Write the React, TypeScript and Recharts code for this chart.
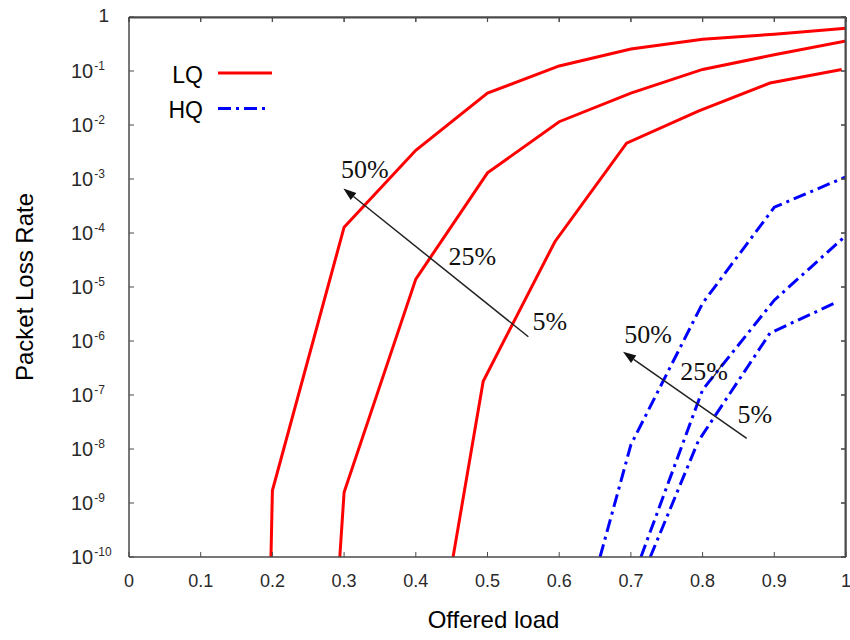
import React from 'react';
import { LineChart, Line, XAxis, YAxis, Legend, ReferenceLine, ReferenceDot } from 'recharts';

// ---------- data ----------
const loadTicks = [0, 0.1, 0.2, 0.3, 0.4, 0.5, 0.6, 0.7, 0.8, 0.9, 1];
const lossTicks = [1, 1e-1, 1e-2, 1e-3, 1e-4, 1e-5, 1e-6, 1e-7, 1e-8, 1e-9, 1e-10];
const lossTickExponents = ['', '-1', '-2', '-3', '-4', '-5', '-6', '-7', '-8', '-9', '-10'];
const legendNames = ['LQ', 'HQ'];
const loadMin = 0;
const loadMax = 1;
const lossMin = 1e-10;
const lossMax = 1;

const loadLQ50 = [0.198, 0.2, 0.3, 0.4, 0.5, 0.6, 0.7, 0.8, 0.9, 1.0];
const lossLQ50 = [1e-10, 1.7e-9, 1.28e-4, 3.4e-3, 3.9e-2, 0.124, 0.255, 0.386, 0.48, 0.617];

const loadLQ25 = [0.294, 0.3, 0.4, 0.5, 0.6, 0.7, 0.8, 0.9, 1.0];
const lossLQ25 = [1e-10, 1.58e-9, 1.4e-5, 1.3e-3, 1.15e-2, 3.9e-2, 0.107, 0.2, 0.36];

const loadLQ5 = [0.452, 0.494, 0.594, 0.694, 0.794, 0.894, 0.994];
const lossLQ5 = [1e-10, 1.8e-7, 6.9e-5, 4.6e-3, 1.8e-2, 6e-2, 0.107];

const loadHQ50 = [0.657, 0.7, 0.8, 0.9, 1.0];
const lossHQ50 = [1e-10, 1.2e-8, 5e-6, 3e-4, 1.1e-3];

const loadHQ25 = [0.714, 0.8, 0.9, 1.0];
const lossHQ25 = [1e-10, 1.25e-7, 5.7e-6, 9e-5];

const loadHQ5 = [0.727, 0.794, 0.894, 0.988];
const lossHQ5 = [1e-10, 1.4e-8, 1.4e-6, 5.3e-6];

// arrows: [tail, tip] in (load, loss)
const arrowLQ = [{ x: 0.557, y: 1.2e-6 }, { x: 0.299, y: 6.7e-4 }];
const arrowHQ = [{ x: 0.8615, y: 1.58e-8 }, { x: 0.689, y: 6.3e-7 }];

const pctLabels = ['50%', '25%', '5%', '50%', '25%', '5%'];
const pctLoad = [0.329, 0.479, 0.587, 0.724, 0.802, 0.873];
const pctLoss = [1.04e-3, 2.55e-5, 1.6e-6, 9.06e-7, 1.9e-7, 3.03e-8];

const zip = (xs: number[], ys: number[]) => xs.map((x, i) => ({ x, y: ys[i] }));

// ---------- layout / styles ----------
const CHART_W = 850;
const CHART_H = 640;
const MARGIN = { top: 17, right: 4, bottom: 0, left: 0 };
const Y_AXIS_W = 129;
const X_AXIS_H = 83;
const PLOT_X = MARGIN.left + Y_AXIS_W;
const PLOT_Y = MARGIN.top;
const PLOT_W = CHART_W - MARGIN.left - MARGIN.right - Y_AXIS_W;
const PLOT_H = CHART_H - MARGIN.top - MARGIN.bottom - X_AXIS_H;

const AXIS = '#4a4a4a';
const TXT = '#2a2a2a';
const SANS = '"Liberation Sans", Arial, sans-serif';
const SERIF = '"Liberation Serif", "Times New Roman", serif';
const RED = '#ff0000';
const BLUE = '#0000ff';
const DASH = '13 5 3 5';
const TICK_LEN = 5;

const fmtLoad = (v: number) => (v === 0 ? '0' : v === 1 ? '1' : String(Math.round(v * 10) / 10));

const XTickBottom = (props: any) => {
  const { x, y, payload } = props;
  return (
    <g>
      <line x1={x} y1={y} x2={x} y2={y - TICK_LEN} stroke={AXIS} strokeWidth={1} />
      <text x={x} y={y + 30} textAnchor="middle" fontSize={18} fill={TXT} fontFamily={SANS}>
        {fmtLoad(payload.value)}
      </text>
    </g>
  );
};

const YTickLeft = (props: any) => {
  const { x, y, index } = props;
  const exp = lossTickExponents[index];
  return (
    <g>
      <line x1={x} y1={y} x2={x + TICK_LEN} y2={y} stroke={AXIS} strokeWidth={1} />
      {exp === '' ? (
        <text x={x - 20} y={y + 5} textAnchor="end" fontSize={19} fill={TXT} fontFamily={SANS}>1</text>
      ) : (
        <text x={x - 58} y={y + 7} textAnchor="start" fontSize={20} fill={TXT} fontFamily={SANS}>
          10
          <tspan dx={1} dy={-8.5} fontSize={12}>{exp}</tspan>
        </text>
      )}
    </g>
  );
};

const TopTick = (props: any) => {
  const { x1, y1, y2 } = props;
  if (x1 == null || y1 == null) return null;
  const top = Math.min(y1, y2);
  return <line x1={x1} y1={top} x2={x1} y2={top + TICK_LEN} stroke={AXIS} strokeWidth={1.2} />;
};

const RightTick = (props: any) => {
  const { x1, y1, x2 } = props;
  if (x1 == null || y1 == null) return null;
  const right = Math.max(x1, x2);
  return <line x1={right} y1={y1} x2={right - TICK_LEN} y2={y1} stroke={AXIS} strokeWidth={1.2} />;
};

const FrameEdge = (props: any) => {
  const { x1, y1, x2, y2 } = props;
  if (x1 == null || y1 == null) return null;
  const horizontal = Math.abs(y1 - y2) < 0.5;
  const dx = horizontal ? 0 : -0.75;
  const dy = horizontal ? 0.75 : 0;
  return <line x1={x1 + dx} y1={y1 + dy} x2={x2 + dx} y2={y2 + dy} stroke={AXIS} strokeWidth={1.5} />;
};

const ArrowShape = (props: any) => {
  const { x1, y1, x2, y2 } = props;
  if (x1 == null || x2 == null) return null;
  const ang = Math.atan2(y2 - y1, x2 - x1);
  const L = 13;
  const W = 4.5;
  const bx = x2 - L * Math.cos(ang);
  const by = y2 - L * Math.sin(ang);
  const p1x = bx + W * Math.sin(ang);
  const p1y = by - W * Math.cos(ang);
  const p2x = bx - W * Math.sin(ang);
  const p2y = by + W * Math.cos(ang);
  return (
    <g>
      <line x1={x1} y1={y1} x2={bx} y2={by} stroke="#222" strokeWidth={1.5} />
      <polygon points={`${x2},${y2} ${p1x},${p1y} ${p2x},${p2y}`} fill="#111" />
    </g>
  );
};

const makeLabelShape = (text: string) => (p: any) => (
  <text x={p.cx} y={p.cy} textAnchor="middle" fontSize={26} fill="#111" fontFamily={SERIF}>
    {text}
  </text>
);
const labelShapes = pctLabels.map((t) => makeLabelShape(t));

const LegendContent = (props: any) => {
  const { payload } = props;
  if (!payload) return null;
  const items = legendNames
    .map((n) => payload.find((e: any) => e.value === n))
    .filter(Boolean);
  return (
    <svg width={130} height={80} style={{ overflow: 'visible', display: 'block' }}>
      {items.map((entry: any, i: number) => {
        const cy = 20 + i * 35.6;
        const dash = entry.payload && entry.payload.strokeDasharray;
        return (
          <g key={i}>
            <text x={45} y={cy + 9.5} textAnchor="end" fontSize={23} fill="#000" fontFamily={SANS}>
              {entry.value}
            </text>
            <line x1={60} y1={cy} x2={i === 0 ? 114 : 108} y2={cy} stroke={entry.color} strokeWidth={3} strokeDasharray={dash} />
          </g>
        );
      })}
    </svg>
  );
};

const XTitle = (p: any) => {
  const vb = p.viewBox || {};
  return (
    <text x={vb.x + vb.width / 2 + 6} y={vb.y + 71} textAnchor="middle" fontSize={24} fill="#000" fontFamily={SANS}>
      Offered load
    </text>
  );
};

const YTitle = (p: any) => {
  const vb = p.viewBox || {};
  const cx = 33;
  const cy = vb.y + vb.height / 2;
  return (
    <text x={cx} y={cy} transform={`rotate(-90 ${cx} ${cy})`} textAnchor="middle" fontSize={24} fill="#000" fontFamily={SANS}>
      Packet Loss Rate
    </text>
  );
};

// frame overlay (top and right edges of the plot box with inward ticks), laid over the chart
const FrameOverlay = () => {
  const right = PLOT_X + PLOT_W;
  const logMin = Math.log10(lossMin);
  const logMax = Math.log10(lossMax);
  return (
    <svg
      width={CHART_W}
      height={CHART_H}
      style={{ position: 'absolute', left: 0, top: 0, pointerEvents: 'none', zIndex: 5 }}
    >
      <line x1={PLOT_X} y1={PLOT_Y} x2={right} y2={PLOT_Y} stroke={AXIS} strokeWidth={1.5} />
      <line x1={right} y1={PLOT_Y} x2={right} y2={PLOT_Y + PLOT_H} stroke={AXIS} strokeWidth={1.5} />
      {loadTicks.map((v) => {
        const x = PLOT_X + ((v - loadMin) / (loadMax - loadMin)) * PLOT_W;
        return <line key={`ot${v}`} x1={x} y1={PLOT_Y} x2={x} y2={PLOT_Y + TICK_LEN} stroke={AXIS} strokeWidth={1} />;
      })}
      {lossTicks.map((v) => {
        const y = PLOT_Y + ((logMax - Math.log10(v)) / (logMax - logMin)) * PLOT_H;
        return <line key={`or${v}`} x1={right} y1={y} x2={right - TICK_LEN} y2={y} stroke={AXIS} strokeWidth={1} />;
      })}
    </svg>
  );
};

export default function App() {
  return (
    <div style={{ position: 'absolute', left: 0, top: 0, width: CHART_W, height: CHART_H, background: '#fff' }}>
      <LineChart width={CHART_W} height={CHART_H} margin={MARGIN}>
        <XAxis
          type="number"
          dataKey="x"
          domain={[loadMin, loadMax]}
          ticks={loadTicks}
          allowDataOverflow
          height={X_AXIS_H}
          tickLine={false}
          tickSize={0}
          tickMargin={0}
          interval={0}
          axisLine={{ stroke: AXIS, strokeWidth: 1.5 }}
          tick={<XTickBottom />}
          label={{ value: 'Offered load', content: XTitle }}
        />
        <YAxis
          type="number"
          scale="log"
          domain={[lossMin, lossMax]}
          ticks={lossTicks}
          allowDataOverflow
          width={Y_AXIS_W}
          tickLine={false}
          tickSize={0}
          tickMargin={0}
          interval={0}
          axisLine={{ stroke: AXIS, strokeWidth: 1.5 }}
          tick={<YTickLeft />}
          label={{ value: 'Packet Loss Rate', content: YTitle }}
        />
        <Legend
          layout="horizontal"
          verticalAlign="middle"
          align="center"
          wrapperStyle={{ position: 'absolute', left: 158, top: 53, width: 130, height: 80 }}
          content={<LegendContent />}
        />
        <Line data={zip(loadLQ50, lossLQ50)} dataKey="y" name="LQ" type="linear" stroke={RED} strokeWidth={3} dot={false} isAnimationActive={false} />
        <Line data={zip(loadHQ50, lossHQ50)} dataKey="y" name="HQ" type="linear" stroke={BLUE} strokeWidth={3} strokeDasharray={DASH} dot={false} isAnimationActive={false} />
        <Line data={zip(loadLQ25, lossLQ25)} dataKey="y" name="LQ 25%" legendType="none" type="linear" stroke={RED} strokeWidth={3} dot={false} isAnimationActive={false} />
        <Line data={zip(loadLQ5, lossLQ5)} dataKey="y" name="LQ 5%" legendType="none" type="linear" stroke={RED} strokeWidth={3} dot={false} isAnimationActive={false} />
        <Line data={zip(loadHQ25, lossHQ25)} dataKey="y" name="HQ 25%" legendType="none" type="linear" stroke={BLUE} strokeWidth={3} strokeDasharray={DASH} dot={false} isAnimationActive={false} />
        <Line data={zip(loadHQ5, lossHQ5)} dataKey="y" name="HQ 5%" legendType="none" type="linear" stroke={BLUE} strokeWidth={3} strokeDasharray={DASH} dot={false} isAnimationActive={false} />
        <ReferenceLine segment={[{ x: loadMin, y: lossMax }, { x: loadMax, y: lossMax }]} ifOverflow="visible" shape={<FrameEdge />} />
        <ReferenceLine segment={[{ x: loadMax, y: lossMin }, { x: loadMax, y: lossMax }]} ifOverflow="visible" shape={<FrameEdge />} />
        {loadTicks.map((v) => (
          <ReferenceLine key={`tt${v}`} segment={[{ x: v, y: lossMin }, { x: v, y: lossMax }]} ifOverflow="visible" shape={<TopTick />} />
        ))}
        {lossTicks.map((v) => (
          <ReferenceLine key={`rt${v}`} segment={[{ x: loadMin, y: v }, { x: loadMax, y: v }]} ifOverflow="visible" shape={<RightTick />} />
        ))}
        <ReferenceLine segment={arrowLQ} shape={<ArrowShape />} ifOverflow="visible" />
        <ReferenceLine segment={arrowHQ} shape={<ArrowShape />} ifOverflow="visible" />
        {pctLabels.map((t, i) => (
          <ReferenceDot key={i} x={pctLoad[i]} y={pctLoss[i]} r={0} ifOverflow="visible" shape={labelShapes[i]} />
        ))}
      </LineChart>
      <FrameOverlay />
    </div>
  );
}
